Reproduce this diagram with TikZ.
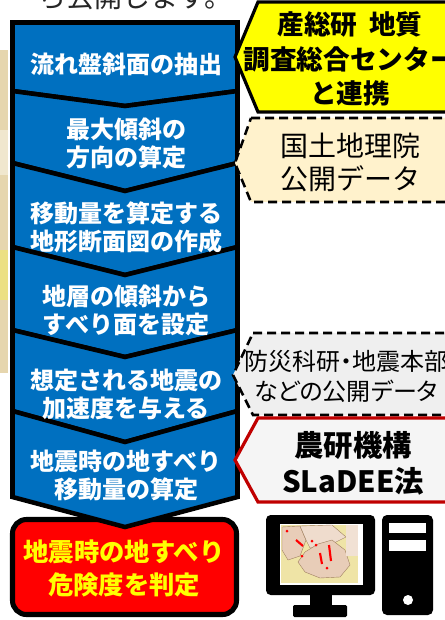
\documentclass[tikz,border=0pt]{standalone}
\usepackage{fontspec}
\usepackage{tikz}
\newfontfamily\jpfont{Noto Sans CJK JP}
\newfontfamily\jppfont[RawFeature=+palt]{Noto Sans CJK JP}

\definecolor{stepblue}{HTML}{0070C0}
\definecolor{gsjyellow}{HTML}{FFFF00}
\definecolor{gsibeige}{HTML}{FFF2CC}
\definecolor{bosaigray}{HTML}{EFEFEF}
\definecolor{naroborder}{HTML}{C00000}
\definecolor{narofill}{HTML}{F5F5F5}
\definecolor{resultred}{HTML}{FF0000}
\definecolor{maptan}{HTML}{E6D6AE}
\definecolor{mapyellow}{HTML}{EFE4A6}
\definecolor{mappink}{HTML}{E8CDB8}
\definecolor{mapline}{HTML}{A08060}

\begin{document}
\begin{tikzpicture}[
  x=0.75pt, y=-0.75pt,
  font=\jpfont,
  stepbox/.style={fill=stepblue, draw=black, line width=3.4pt, line join=miter},
  steptext/.style={text=white, align=center, inner sep=0pt,
    font=\jpfont\bfseries\fontsize{18}{21}\selectfont},
  source/.style={line width=2.4pt, line join=miter},
  dashsource/.style={source, line width=1.9pt, dash pattern=on 6.75pt off 3.75pt},
  sourcetext/.style={text=black, align=center, inner sep=0pt},
]
\useasboundingbox (0,0) rectangle (445,620);
\clip (0,0) rectangle (445,620);

% --- leftovers of the page around the chart ---
\fill[maptan] (0,50) rectangle (8,373);
\fill[maptan!60!white] (0,130) rectangle (8,175);
\fill[maptan!75!yellow] (0,250) rectangle (8,300);
\node[anchor=base, inner sep=0pt, text=black!85,
  font=\jpfont\fontsize{21}{25}\selectfont] (caption) at (135.5,8) {ら公開します。};

% --- result box (under the last step) ---
\draw[fill=resultred, draw=black, line width=3.8pt, rounded corners=10.5pt]
  (12.5,519.5) rectangle (236.5,614.5);
\node[steptext, text=gsjyellow, font=\jpfont\bfseries\fontsize{19}{24.75}\selectfont]
  (result) at (124,568.5) {地震時の地すべり\\危険度を判定};

% --- process column ---
\draw[stepbox] (12.5,22.5) -- (237.5,22.5) -- (237.5,91) -- (125,106) -- (12.5,91) -- cycle;
\draw[stepbox] (12.5,91) -- (125,106) -- (237.5,91) -- (237.5,163) -- (125,191) -- (12.5,163) -- cycle;
\draw[stepbox] (12.5,163) -- (125,191) -- (237.5,163) -- (237.5,247) -- (125,275) -- (12.5,247) -- cycle;
\draw[stepbox] (12.5,247) -- (125,275) -- (237.5,247) -- (237.5,330) -- (125,357) -- (12.5,330) -- cycle;
\draw[stepbox] (12.5,330) -- (125,357) -- (237.5,330) -- (237.5,411) -- (125,442) -- (12.5,411) -- cycle;
\draw[stepbox] (12.5,411) -- (125,442) -- (237.5,411) -- (237.5,497) -- (125,527) -- (12.5,497) -- cycle;

\node[steptext] (extract)  at (126,64)  {流れ盤斜面の抽出};
\node[steptext] (maxslope) at (126,143) {最大傾斜の\\方向の算定};
\node[steptext] (profile)  at (126,227) {移動量を算定する\\地形断面図の作成};
\node[steptext] (slipsurf) at (126,310) {地層の傾斜から\\すべり面を設定};
\node[steptext] (accel)    at (126,394) {想定される地震の\\加速度を与える};
\node[steptext] (displace) at (126,475) {地震時の地すべり\\移動量の算定};

% --- data sources, pointing at the steps ---
\draw[source, fill=gsjyellow, draw=black] (258,2) -- (460,2) -- (460,112) -- (258,112) -- (235,57) -- cycle;
\node[sourcetext, font=\jpfont\bfseries\fontsize{20}{26}\selectfont]
  (gsj) at (350,59) {産総研\hspace{0.45em}地質\\調査総合センター\\と連携};

\draw[dashsource, fill=gsibeige, draw=black] (251,118) -- (460,118) -- (460,202) -- (251,202) -- (235,163) -- cycle;
\node[sourcetext, font=\jpfont\fontsize{21}{25}\selectfont]
  (gsi) at (350,162.5) {国土地理院\\公開データ};

\draw[dashsource, fill=bosaigray, draw=black] (253,333) -- (460,333) -- (460,415) -- (253,415) -- (233,375) -- cycle;
\node[sourcetext, font=\jppfont\fontsize{18}{22.5}\selectfont]
  (nied) at (346,376) {防災科研・地震本部\\などの公開データ};

\draw[source, fill=narofill, draw=naroborder] (258,418) -- (460,418) -- (460,502) -- (258,502) -- (235,460) -- cycle;
\node[sourcetext, font=\jpfont\bfseries\fontsize{22}{27}\selectfont]
  (naro) at (353,463) {農研機構\\SLaDEE法};

% --- computer: monitor with hazard map, tower ---
\fill[black, rounded corners=3.5pt] (266,515) rectangle (375,595);
\fill[white] (280,524) rectangle (363,585);
\fill[mapyellow] (281,525) rectangle (358,583);
\filldraw[fill=mappink, draw=mapline, line width=0.3pt]
  (282,527) -- (300,526) -- (306,540) -- (300,556) -- (288,560) -- (282,550) -- cycle;
\filldraw[fill=mappink!70!white, draw=mapline, line width=0.3pt]
  (300,526) -- (332,525) -- (346,537) -- (330,545) -- (310,548) -- (306,540) -- cycle;
\filldraw[fill=mappink, draw=mapline, line width=0.3pt]
  (305,552) -- (318,544) -- (332,540) -- (345,550) -- (350,565) -- (340,577)
  -- (320,578) -- (305,572) -- (298,562) -- cycle;
\fill[mappink!60!white] (346,525) rectangle (358,556);
\fill[red] (287,531) circle[radius=1.5] (302,556) circle[radius=1.5]
  (312,541) circle[radius=1.5] (316,545) circle[radius=1.5] (327,568) circle[radius=1.5];
\draw[red, line width=1.6pt] (296,540) -- (303,546);
\draw[red, line width=1.6pt] (320,553) -- (322,564);
\draw[red, line width=1.6pt] (329,545) -- (331,561);
\fill[black] (310,594) rectangle (332,606);
\fill[black, rounded corners=1pt] (293,605) rectangle (347,617);

\fill[black, rounded corners=3.75pt] (382,515) rectangle (433,615);
\fill[white] (389,523) rectangle (426,533);
\fill[white] (389,540) rectangle (426,551);
\fill[white] (408,600) circle[radius=5];
\end{tikzpicture}
\end{document}
